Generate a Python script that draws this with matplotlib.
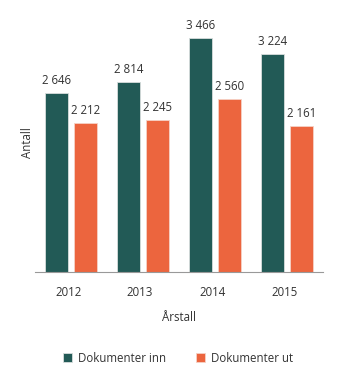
import matplotlib.pyplot as plt
import numpy as np

plt.rcParams['font.family'] = ['Open Sans', 'DejaVu Sans']

years = ['2012', '2013', '2014', '2015']
docs_in = [2646, 2814, 3466, 3224]
docs_out = [2212, 2245, 2560, 2161]
labels_in = ['2 646', '2 814', '3 466', '3 224']
labels_out = ['2 212', '2 245', '2 560', '2 161']

c_in = '#225a56'
c_out = '#ec653e'
fs = 8.3

fig = plt.figure(figsize=(3.45, 3.83), dpi=100)
# axes placed in pixel terms: left 35, right 323, baseline at 272 from top
ax = fig.add_axes([35 / 345, 111 / 383, 288 / 345, 256 / 383])

x = np.arange(len(years))
w = 0.32
b1 = ax.bar(x - 0.2, docs_in, w, color=c_in, edgecolor='#d8dedd', linewidth=0.6)
b2 = ax.bar(x + 0.2, docs_out, w, color=c_out, edgecolor='#f6d2c6', linewidth=0.6)

for bars, labs in ((b1, labels_in), (b2, labels_out)):
    for r, lab in zip(bars, labs):
        ax.annotate(lab, (r.get_x() + r.get_width() / 2, r.get_height()),
                    xytext=(0, 6), textcoords='offset pixels',
                    ha='center', va='bottom', fontsize=fs, color='#333333')

ax.set_xlim(-0.5, 3.5)
ax.set_ylim(0, 3790)
ax.set_xticks(x - 0.04)
ax.set_xticklabels(years, fontsize=fs, color='#333333')
ax.tick_params(axis='x', length=0, pad=10)
ax.set_yticks([])
for s in ('top', 'right', 'left'):
    ax.spines[s].set_visible(False)
ax.spines['bottom'].set_color('#999999')
ax.spines['bottom'].set_linewidth(0.8)

ax.set_xlabel('Årstall', fontsize=fs, color='#333333', labelpad=9)
fig.text(27 / 345, 1 - 143 / 383, 'Antall', rotation=90, fontsize=fs,
         color='#333333', ha='center', va='center')

fig.legend([b1, b2], ['Dokumenter inn', 'Dokumenter ut'],
           loc='center', bbox_to_anchor=(178 / 345, 1 - 358 / 383), ncol=2,
           frameon=False, fontsize=fs, handlelength=0.8, handleheight=0.8,
           handletextpad=0.5, columnspacing=2.6, labelcolor='#333333')

fig.savefig('out.png', dpi=100)
